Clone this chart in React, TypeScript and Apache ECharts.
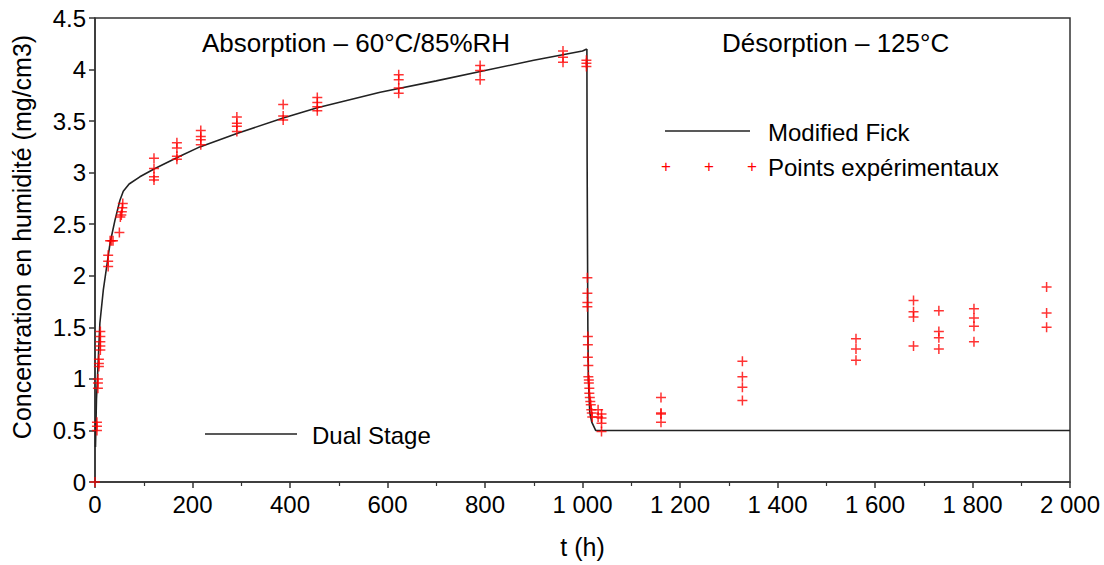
import React, { useEffect, useRef } from "react";
import * as echarts from "echarts";

const FONT = "'Liberation Sans', Arial, sans-serif";

// Model curves [t (h), concentration (mg/cm3)]
const dualStage: [number, number][] = [
  [1, 0.34], [3, 0.8], [5, 1.0], [7, 1.22], [10, 1.54], [17, 1.86], [24, 2.09],
  [31, 2.32], [41, 2.54], [51, 2.73], [58, 2.82], [70, 2.89], [92, 2.96],
  [123, 3.04], [174, 3.16], [215, 3.25], [291, 3.38], [386, 3.53], [456, 3.63],
  [585, 3.78], [700, 3.89], [800, 3.99], [900, 4.09], [1000, 4.18], [1009, 4.2],
];
const modifiedFick: [number, number][] = [
  [1009, 4.2], [1009.5, 3.1], [1011, 1.5], [1012, 1.0], [1015, 0.67],
  [1019, 0.58], [1027, 0.5], [2000, 0.5],
];

// Experimental points
const absorptionPoints: [number, number][] = [
  [0, 0],
  [4, 0.5], [4, 0.54], [4, 0.58],
  [6, 0.91], [6, 0.96], [6, 1.0],
  [8, 1.12], [8, 1.15], [8, 1.19],
  [11, 1.28], [11, 1.32], [11, 1.36], [11, 1.41], [11, 1.46],
  [27, 2.09], [27, 2.14], [27, 2.2],
  [31, 2.34], [34, 2.34], [37, 2.34],
  [50, 2.42], [52, 2.57], [54, 2.59], [55, 2.62], [56, 2.66], [57, 2.7],
  [121, 2.93], [121, 2.96], [121, 3.04], [121, 3.14],
  [168, 3.13], [168, 3.16], [168, 3.24], [168, 3.29],
  [217, 3.27], [217, 3.32], [217, 3.35], [217, 3.41],
  [291, 3.4], [291, 3.45], [291, 3.48], [291, 3.54],
  [386, 3.51], [386, 3.55], [386, 3.66],
  [456, 3.6], [456, 3.64], [456, 3.68], [456, 3.73],
  [623, 3.77], [623, 3.82], [623, 3.9], [623, 3.95],
  [790, 3.9], [790, 3.99], [790, 4.04],
  [960, 4.07], [960, 4.12], [960, 4.18],
];
const desorptionPoints: [number, number][] = [
  [1008, 4.03], [1008, 4.06], [1008, 4.09],
  [1010, 1.98], [1010, 1.83], [1010, 1.74], [1010, 1.7],
  [1011, 1.41], [1011, 1.33], [1011, 1.21], [1012, 1.13], [1012, 1.02],
  [1013, 0.99], [1013, 0.96], [1014, 0.91], [1014, 0.86], [1015, 0.82],
  [1016, 0.78], [1017, 0.75], [1018, 0.7], [1019, 0.67], [1020, 0.63],
  [1032, 0.7], [1032, 0.63], [1039, 0.66], [1039, 0.62], [1039, 0.57], [1039, 0.49],
  [1161, 0.82], [1161, 0.67], [1161, 0.66], [1161, 0.58],
  [1328, 1.17], [1328, 1.02], [1328, 0.92], [1328, 0.79],
  [1561, 1.39], [1561, 1.29], [1561, 1.18],
  [1679, 1.76], [1679, 1.65], [1679, 1.6], [1679, 1.32],
  [1731, 1.66], [1731, 1.46], [1731, 1.4], [1731, 1.29],
  [1803, 1.68], [1803, 1.59], [1803, 1.51], [1803, 1.36],
  [1952, 1.89], [1952, 1.64], [1952, 1.5],
];

const PLUS = "path://M8.5,0h3v8.5h8.5v3h-8.5v8.5h-3v-8.5h-8.5v-3h8.5z";

export default function App() {
  const ref = useRef<HTMLDivElement>(null);
  useEffect(() => {
    if (!ref.current) return;
    const chart = echarts.init(ref.current, null, { renderer: "svg" });
    const axisLabel = { color: "#000", fontSize: 24, fontFamily: FONT };
    const plusText = (x: number) => ({
      type: "text", x, y: 166,
      style: { text: "+", fontSize: 17, fontFamily: FONT, fill: "#ff0000", align: "center", verticalAlign: "middle" },
    });
    chart.setOption({
      animation: false,
      backgroundColor: "#fff",
      grid: {
        left: 95, top: 18, width: 975, height: 464,
        show: true, borderColor: "#333", borderWidth: 1.5, backgroundColor: "transparent",
      },
      xAxis: {
        type: "value", min: 0, max: 2000, interval: 200,
        name: "t (h)", nameLocation: "middle", nameGap: 52,
        nameTextStyle: { color: "#000", fontSize: 25, fontFamily: FONT },
        axisLine: { show: true, lineStyle: { color: "#333", width: 1.5 } },
        axisTick: { show: true, length: 6, lineStyle: { color: "#333", width: 1.5 } },
        minorTick: { show: true, splitNumber: 2, length: 4, lineStyle: { color: "#333", width: 1.2 } },
        splitLine: { show: false },
        axisLabel: {
          ...axisLabel, margin: 10,
          formatter: (v: number) => (v >= 1000 ? `${Math.floor(v / 1000)} ${String(v % 1000).padStart(3, "0")}` : String(v)),
        },
      },
      yAxis: {
        type: "value", min: 0, max: 4.5, interval: 0.5,
        name: "Concentration en humidité (mg/cm3)", nameLocation: "middle", nameGap: 61,
        nameTextStyle: { color: "#000", fontSize: 25, fontFamily: FONT, padding: [0, 0, 0, 26] },
        axisLine: { show: true, lineStyle: { color: "#333", width: 1.5 } },
        axisTick: { show: true, length: 6, lineStyle: { color: "#333", width: 1.5 } },
        splitLine: { show: false },
        axisLabel: { ...axisLabel, margin: 9 },
      },
      series: [
        {
          name: "Dual Stage", type: "line", data: dualStage, showSymbol: false,
          lineStyle: { color: "#222", width: 1.6 }, z: 2,
        },
        {
          name: "Modified Fick", type: "line", data: modifiedFick, showSymbol: false,
          lineStyle: { color: "#222", width: 1.6 }, z: 2,
        },
        {
          name: "Points expérimentaux", type: "scatter", data: [...absorptionPoints, ...desorptionPoints],
          symbol: PLUS, symbolSize: 10, itemStyle: { color: "#ff0000" }, z: 3,
        },
      ],
      graphic: [
        { type: "text", x: 202, y: 43, style: { text: "Absorption – 60°C/85%RH", fontSize: 26, fontFamily: FONT, fill: "#000", verticalAlign: "middle" } },
        { type: "text", x: 722, y: 43, style: { text: "Désorption – 125°C", fontSize: 26, fontFamily: FONT, fill: "#000", verticalAlign: "middle" } },
        { type: "line", shape: { x1: 665, y1: 131, x2: 750, y2: 131 }, style: { stroke: "#222", lineWidth: 1.6 } },
        { type: "text", x: 768, y: 132, style: { text: "Modified Fick", fontSize: 24, fontFamily: FONT, fill: "#000", verticalAlign: "middle" } },
        plusText(666), plusText(709), plusText(752),
        { type: "text", x: 768, y: 167, style: { text: "Points expérimentaux", fontSize: 24, fontFamily: FONT, fill: "#000", verticalAlign: "middle" } },
        { type: "line", shape: { x1: 205, y1: 434, x2: 297, y2: 434 }, style: { stroke: "#222", lineWidth: 1.6 } },
        { type: "text", x: 312, y: 435, style: { text: "Dual Stage", fontSize: 24, fontFamily: FONT, fill: "#000", verticalAlign: "middle" } },
      ],
    });
    return () => chart.dispose();
  }, []);
  return <div ref={ref} style={{ position: "fixed", left: 0, top: 0, width: 1104, height: 565 }} />;
}
